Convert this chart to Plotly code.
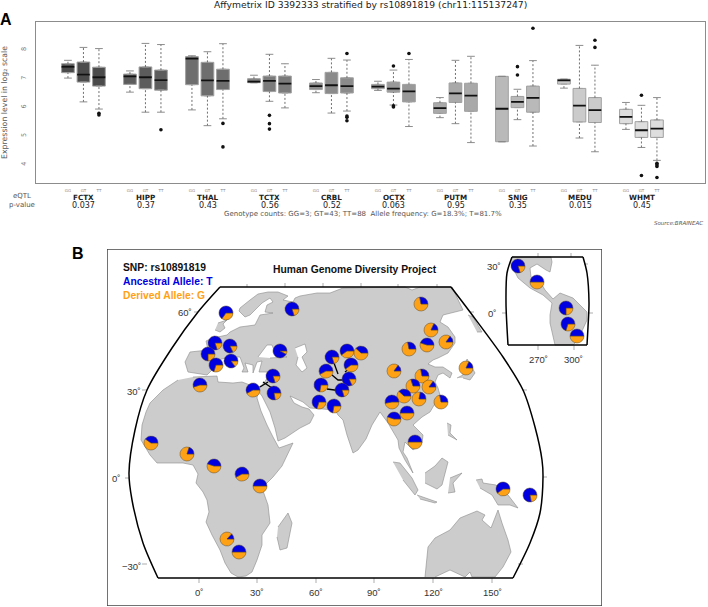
import plotly.graph_objects as go

W, H = 708, 607

# ---------- Panel A data ----------
tissues = ["FCTX", "HIPP", "THAL", "TCTX", "CRBL", "OCTX", "PUTM", "SNIG", "MEDU", "WHMT"]
pvalues = ["0.037", "0.37", "0.43", "0.56", "0.52", "0.063", "0.95", "0.35", "0.015", "0.45"]
genotypes = ["GG", "GT", "TT"]
box_fill = ["#4b4b4b", "#5c5c5c", "#6e6e6e", "#7b7b7b", "#8b8b8b", "#999999", "#a9a9a9", "#b9b9b9", "#cbcbcb", "#dedede"]

whisk_low = [7.02, 6.19, 5.94, 6.53, 5.83, 5.83, 5.91, 5.36, 5.60, 6.86, 6.21, 5.98, 6.51, 5.80, 5.87,
             6.59, 6.08, 5.33, 5.64, 5.43, 4.77, 4.80, 5.57, 4.65, 6.67, 4.93, 4.45, 5.23, 4.60, 4.15]
q1 = [7.21, 6.88, 6.74, 6.80, 6.65, 6.60, 6.79, 6.40, 6.62, 6.86, 6.55, 6.50, 6.62, 6.48, 6.50,
      6.65, 6.53, 6.19, 5.79, 6.17, 5.86, 4.80, 5.99, 5.83, 6.81, 5.49, 5.47, 5.43, 4.95, 4.95]
median = [7.41, 7.14, 7.05, 7.08, 7.05, 6.95, 7.70, 6.94, 6.92, 6.90, 6.92, 6.83, 6.74, 6.77, 6.74,
          6.72, 6.65, 6.56, 5.97, 6.49, 6.41, 5.95, 6.19, 6.33, 6.94, 6.06, 5.90, 5.67, 5.20, 5.26]
q3 = [7.52, 7.58, 7.40, 7.16, 7.41, 7.30, 7.77, 7.57, 7.33, 7.00, 7.09, 7.09, 6.85, 7.22, 7.03,
      6.80, 6.88, 6.80, 6.16, 6.85, 6.84, 7.08, 6.38, 6.74, 6.98, 6.66, 6.34, 5.93, 5.50, 5.56]
whisk_high = [7.64, 8.09, 8.05, 7.27, 8.23, 8.19, 7.80, 7.94, 8.22, 7.12, 7.85, 7.52, 6.97, 7.71, 7.65,
              6.91, 7.30, 7.67, 6.34, 7.64, 7.78, 7.08, 6.63, 7.63, 6.98, 8.16, 7.47, 6.17, 6.07, 6.34]
# outliers: (box index, value)
outlier_box = [2, 2, 5, 8, 8, 10, 10, 10, 14, 14, 14, 14, 16, 16, 16, 17, 22, 22, 23, 26, 26, 28, 28, 29, 29, 29, 29]
outlier_val = [5.79, 5.73, 5.22, 5.44, 4.62, 5.72, 5.43, 5.24, 7.88, 5.70, 5.65, 5.53, 7.44, 6.05, 6.01, 7.88,
               7.13, 7.42, 8.76, 8.09, 8.34, 6.42, 3.62, 4.05, 4.00, 3.94, 3.55]

# ---------- Panel B data (map-plane coordinates) ----------
pop_x = [226, 292, 215, 230, 208, 231, 216, 280, 200, 273, 253, 274, 332, 347, 361, 351, 326, 349, 321, 342, 319, 334,
         421, 431, 409, 427, 446, 394, 466, 422, 413, 429, 404, 419, 441, 392, 407, 394,
         415, 503, 530,
         151, 187, 214, 242, 260, 227, 239,
         518, 537, 566, 568, 577]
pop_y = [313, 309, 343, 346, 354, 361, 365, 351, 385, 376, 390, 393, 357, 351, 353, 365, 371, 379, 385, 390, 402, 406,
         304, 330, 349, 345, 342, 371, 368, 376, 386, 387, 396, 399, 402, 402, 413, 419,
         442, 489, 495,
         443, 454, 466, 474, 486, 539, 552,
         266, 282, 308, 324, 336]
pop_derived = [0.35, 0.20, 0.20, 0.18, 0.25, 0.15, 0.30, 0.08, 0.45, 0.20, 0.42, 0.22, 0.20, 0.40, 0.62, 0.40, 0.42,
               0.18, 0.28, 0.20, 0.30, 0.28,
               0.72, 0.82, 0.72, 0.55, 0.85, 0.85, 0.82, 0.72, 0.70, 0.85, 0.62, 0.78, 0.72, 0.47, 0.50, 0.55,
               0.50, 0.40, 0.22,
               0.60, 0.80, 0.55, 0.42, 0.50, 0.87, 0.50,
               0.20, 0.50, 0.25, 0.30, 0.50]

land_main = [(178,380),(163,390),(150,403),(146,412),(142,425),(141,440),(150,455),(157,463),(170,463),(183,463),(193,465),
    (198,474),(196,483),(203,492),(207,500),(209,512),(206,522),(212,535),(220,550),(225,563),(231,573),(238,577),(246,576),
    (252,572),(257,560),(262,545),(262,535),(270,523),(268,505),(262,488),(273,477),(282,466),(293,443),(279,448),(273,437),
    (267,425),(261,411),(257,398),(258,391),(262,396),(270,412),(275,428),(278,441),(285,438),(300,428),(310,423),(314,415),
    (309,409),(302,407),(294,403),(290,396),(296,399),(303,402),(310,408),(320,409),(335,410),(338,415),(343,420),(347,435),
    (353,453),(358,450),(366,439),(372,425),(378,415),(380,412),(388,423),(394,433),(398,440),(399,448),(405,460),(413,473),
    (407,458),(403,452),(405,442),(413,450),(422,443),(423,435),(413,425),(422,417),(430,412),(440,395),(438,388),(435,382),
    (438,375),(443,373),(450,378),(452,373),(443,367),(435,367),(428,364),(433,360),(438,358),(448,353),(455,343),(455,337),
    (448,327),(440,322),(443,315),(463,310),(452,287),(420,287),(412,290),(405,287),
    (353,288),(343,288),(330,293),(317,293),(300,296),(295,298),(293,302),(283,300),(288,296),(278,292),(268,292),(258,294),
    (250,300),(240,308),(239,311),(245,317),(250,315),(257,308),(262,303),(270,298),(273,302),(267,305),(265,312),(273,313),
    (260,315),(255,325),(240,327),(230,332),(227,335),(213,338),(206,341),(208,350),(190,352),(185,362),(188,372),(207,375),
    (214,368),(218,360),(230,357),(240,357),(244,368),(242,372),(248,372),(245,363),(253,365),(253,373),(257,362),(262,361),
    (259,372),(270,372),(266,380),(262,385),(257,388),(250,385),(242,382),(233,383),(218,382),(217,376),(193,377)]
land_islands = [
    [(278,527),(288,513),(292,523),(287,548),(280,550),(277,537)],
    [(393,462),(400,463),(412,478),(418,490),(415,495),(403,480)],
    [(417,495),(437,502),(435,503),(420,499)],
    [(425,473),(435,466),(442,458),(448,462),(442,485),(437,489),(425,483)],
    [(450,478),(462,473),(453,483),(455,492),(448,493)],
    [(447,423),(451,425),(450,433),(457,440),(448,435)],
    [(476,480),(482,479),(483,483),(496,485),(508,495),(518,508),(510,505),(498,505),(492,495),(480,488)],
    [(425,577),(428,547),(435,538),(450,530),(460,518),(477,511),(485,515),(482,520),(491,528),(498,510),(502,523),
     (508,540),(511,552),(503,567),(495,577),(472,577),(470,572),(465,577),(450,570),(435,577)],
    [(457,378),(463,375),(467,359),(469,362),(475,373),(470,380),(463,378)],
    [(468,315),(473,317),(482,332),(477,332)],
    [(218,323),(227,320),(223,324),(225,328),(220,332),(215,330)],
    [(512,257),(551,257),(552,262),(550,272),(546,270),(537,264),(530,268),(531,277),(541,283),(545,290),(553,299),(560,293),
     (573,298),(587,312),(587,320),(578,340),(573,345),(555,345),(550,323),(550,315),(552,303),(543,295),(530,288),(518,278),(510,262)],
]
water = [
    [(295,348),(305,344),(307,352),(302,357),(307,368),(302,372),(296,365),(298,357)],
    [(258,357),(263,350),(267,345),(272,345),(274,350),(287,357),(270,358)],
]
connectors = [[(334,363),(338,374)], [(345,372),(350,368)], [(332,375),(338,380),(350,380)], [(327,389),(342,391)],
              [(260,387),(268,382)], [(263,382),(272,388)]]
border_arcs = [[(220,287),(198,312),(172,348),(147,390),(135,430),(129,473),(132,500),(143,543),(158,578)],
               [(513,578),(530,543),(540,513),(543,477),(542,460),(535,427),(523,390),(503,357),(470,312),(451,287)],
               [(158,578),(513,578)], [(220,287),(451,287)],
               [(583,257),(587,273),(589,303),(588,327),(587,345)], [(508,345),(506,303),(507,273),(512,257)],
               [(512,257),(583,257)], [(508,345),(587,345)]]
map_ticks = [[(198,312),(194,312)], [(147,390),(142,390)], [(129,478),(125,478)], [(147,564),(142,564)],
             [(199,578),(199,583)], [(257,578),(257,583)], [(316,578),(316,583)], [(374,578),(374,583)], [(433,578),(433,583)], [(492,578),(492,583)],
             [(247,287),(247,284)], [(285,287),(285,283)], [(323,287),(323,283)], [(361,287),(361,283)], [(398,287),(398,284)], [(437,287),(437,284)],
             [(470,312),(474,312)], [(522,390),(527,390)], [(543,477),(547,477)], [(518,564),(523,564)],
             [(538,257),(538,253)], [(571,257),(571,253)], [(584,264),(588,264)], [(589,313),(593,313)], [(506,313),(502,313)],
             [(538,345),(538,350)], [(574,345),(574,350)]]
map_labels = [("60˚",185,312),("30˚",134,391),("0˚",116,478),("−30˚",131,566),
              ("0˚",199,592),("30˚",257,592),("60˚",316,592),("90˚",374,592),("120˚",433,592),("150˚",492,592),
              ("30˚",494,266),("0˚",492,313),("270˚",538,359),("300˚",573,359)]

MAP_X0, MAP_X1, MAP_Y0, MAP_Y1 = 107, 602, 249, 606
BLUE, ORANGE = "#0000e0", "#ffa114"


def xy(parts):
    xs, ys = [], []
    for part in parts:
        for a, b in part:
            xs.append(a); ys.append(b)
        xs.append(None); ys.append(None)
    return xs, ys


fig = go.Figure()

# ---------- Panel A ----------
positions = [g * 4 + k + 1 for g in range(len(tissues)) for k in range(3)]
wx, wy, cx, cy, mx, my = [], [], [], [], [], []
for i, p in enumerate(positions):
    wx += [p, p, None, p, p, None]
    wy += [whisk_low[i], q1[i], None, q3[i], whisk_high[i], None]
    cx += [p - 0.25, p + 0.25, None, p - 0.25, p + 0.25, None]
    cy += [whisk_low[i], whisk_low[i], None, whisk_high[i], whisk_high[i], None]
    mx += [p - 0.41, p + 0.41, None]
    my += [median[i], median[i], None]

for g, name in enumerate(tissues):
    s = g * 3
    fig.add_trace(go.Box(x=positions[s:s + 3], q1=q1[s:s + 3], median=median[s:s + 3], q3=q3[s:s + 3],
                         lowerfence=q1[s:s + 3], upperfence=q3[s:s + 3], width=0.82, name=name,
                         fillcolor=box_fill[g], line=dict(color="#a0a0a0", width=1), showlegend=False,
                         boxpoints=False, xaxis="x", yaxis="y"))
fig.add_trace(go.Scatter(x=wx, y=wy, mode="lines", line=dict(color="#606060", width=0.9, dash="2px,2px"),
                         showlegend=False, hoverinfo="skip", xaxis="x", yaxis="y"))
fig.add_trace(go.Scatter(x=cx, y=cy, mode="lines", line=dict(color="#808080", width=0.9),
                         showlegend=False, hoverinfo="skip", xaxis="x", yaxis="y"))
fig.add_trace(go.Scatter(x=mx, y=my, mode="lines", line=dict(color="#111111", width=1.8),
                         showlegend=False, hoverinfo="skip", xaxis="x", yaxis="y"))
fig.add_trace(go.Scatter(x=[positions[i] for i in outlier_box], y=outlier_val, mode="markers",
                         marker=dict(color="#111111", size=3.6), showlegend=False, xaxis="x", yaxis="y"))

# ---------- Panel B ----------
lx, ly = xy([land_main] + land_islands)
fig.add_trace(go.Scatter(x=lx, y=ly, mode="lines", fill="toself", fillcolor="#cccccc",
                         line=dict(color="#8a8a8a", width=0.6), showlegend=False, hoverinfo="skip",
                         xaxis="x2", yaxis="y2"))
wtx, wty = xy(water)
fig.add_trace(go.Scatter(x=wtx, y=wty, mode="lines", fill="toself", fillcolor="#ffffff",
                         line=dict(color="#8a8a8a", width=0.6), showlegend=False, hoverinfo="skip",
                         xaxis="x2", yaxis="y2"))
tx, ty = xy(map_ticks)
fig.add_trace(go.Scatter(x=tx, y=ty, mode="lines", line=dict(color="#777777", width=0.6), showlegend=False,
                         hoverinfo="skip", xaxis="x2", yaxis="y2"))
bx, by = xy(border_arcs)
fig.add_trace(go.Scatter(x=bx, y=by, mode="lines", line=dict(color="#000000", width=1.5, shape="spline", smoothing=0.8),
                         showlegend=False, hoverinfo="skip", xaxis="x2", yaxis="y2"))
ccx, ccy = xy(connectors)
fig.add_trace(go.Scatter(x=ccx, y=ccy, mode="lines", line=dict(color="#000000", width=1.3), showlegend=False,
                         hoverinfo="skip", xaxis="x2", yaxis="y2"))

R = 7.0
for px, py, d in zip(pop_x, pop_y, pop_derived):
    fig.add_trace(go.Pie(values=[d, 1 - d], labels=["Derived G", "Ancestral T"], sort=False, direction="clockwise",
                         rotation=90, textinfo="none", hoverinfo="label+percent", showlegend=False,
                         marker=dict(colors=[ORANGE, BLUE], line=dict(color="#5a4a30", width=0.5)),
                         domain=dict(x=[(px - R) / W, (px + R) / W], y=[1 - (py + R) / H, 1 - (py - R) / H])))

GRAY = "#555555"
ann = []


def text(t, x, y, size, color="#222222", family="DejaVu Sans", anchor="center", angle=0):
    ann.append(dict(text=t, x=x / W, y=1 - y / H, xref="paper", yref="paper", showarrow=False, xanchor=anchor,
                    yanchor="middle", textangle=angle, font=dict(size=size, color=color, family=family)))


text("Affymetrix ID 3392333 stratified by rs10891819 (chr11:115137247)", 370, 5, 9.2)
text("<b>A</b>", 6, 20, 16, "#000000", "Liberation Sans")
text("<b>B</b>", 78, 253, 16, "#000000", "Liberation Sans")
text("Expression level in log₂ scale", 5, 103, 7.8, GRAY, angle=-90)
text("eQTL", 21.5, 196, 7, GRAY)
text("p-value", 21.5, 205, 7, GRAY)
for g, name in enumerate(tissues):
    xc = 83.5 + g * 62.08
    text("<b>" + name + "</b>", xc, 197, 7.2)
    text(pvalues[g], xc, 205.3, 8)
text("Genotype counts: GG=3; GT=43; TT=88  Allele frequency: G=18.3%; T=81.7%", 363, 213.5, 7, GRAY)
text("<i>Source:BRAINEAC</i>", 705, 223, 5.5, GRAY, anchor="right")

text("<b>SNP: rs10891819</b>", 121, 267, 10.3, "#111111", "Liberation Sans", "left")
text("<b>Ancestral Allele: T</b>", 121, 281, 10.3, BLUE, "Liberation Sans", "left")
text("<b>Derived Allele: G</b>", 121, 295, 10.3, ORANGE, "Liberation Sans", "left")
text("<b>Human Genome Diversity Project</b>", 355, 270, 10.3, "#111111", "Liberation Sans")
for t, x, y in map_labels:
    text(t, x, y, 9.5, "#333333", "Liberation Sans")

fig.update_layout(
    width=W, height=H, margin=dict(l=0, r=0, t=0, b=0), paper_bgcolor="white", plot_bgcolor="white",
    showlegend=False, boxmode="overlay", annotations=ann,
    xaxis=dict(domain=[35.7 / W, 705 / W], range=[-1.08, 42.1], tickmode="array",
               tickvals=positions, ticktext=[genotypes[i % 3] for i in range(len(positions))],
               tickfont=dict(size=4, color="#888888", family="DejaVu Sans"), ticks="", ticklen=0, tickangle=0,
               ticklabelstandoff=3,
               showgrid=False, zeroline=False, showline=True, mirror=True, linecolor="#8c8c8c", linewidth=1),
    yaxis=dict(domain=[1 - 183 / H, 1 - 22 / H], range=[3.36, 8.977], tickmode="array", tickvals=[4, 5, 6, 7, 8],
               ticktext=["4", "5", "6", "7", "8"], tickangle=-90, ticklabelstandoff=6,
               tickfont=dict(size=6.5, color="#777777", family="DejaVu Sans"), ticks="", showgrid=False, zeroline=False,
               showline=True, mirror=True, linecolor="#8c8c8c", linewidth=1),
    xaxis2=dict(domain=[MAP_X0 / W, MAP_X1 / W], range=[MAP_X0, MAP_X1], visible=False, anchor="y2"),
    yaxis2=dict(domain=[1 - MAP_Y1 / H, 1 - MAP_Y0 / H], range=[MAP_Y1, MAP_Y0], visible=False, anchor="x2"),
    shapes=[dict(type="rect", xref="x2", yref="y2", x0=MAP_X0, x1=MAP_X1, y0=MAP_Y0, y1=MAP_Y1,
                 line=dict(color="#444444", width=1.5), layer="below")],
)

fig.write_html("out.html", config={"displayModeBar": False},
               post_script="document.body.style.margin='0';document.documentElement.style.overflow='hidden';")
